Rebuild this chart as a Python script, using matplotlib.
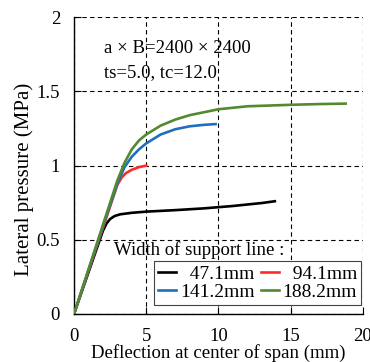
import matplotlib
matplotlib.use("Agg")
import matplotlib.pyplot as plt

# support line width 47.1mm
x_47 = [0, 1.0, 2.0, 2.25, 2.5, 2.8, 3.2, 4.0, 5.0, 7.0, 9.0, 11.0, 13.0, 13.9]
y_47 = [0, 0.28, 0.56, 0.61, 0.64, 0.66, 0.672, 0.682, 0.69, 0.70, 0.712, 0.728, 0.748, 0.76]
# 94.1mm
x_94 = [0, 1.0, 2.0, 3.0, 3.3, 3.6, 4.0, 4.5, 5.0]
y_94 = [0, 0.29, 0.58, 0.87, 0.92, 0.95, 0.972, 0.99, 1.0]
# 141.2mm
x_141 = [0, 1.0, 2.0, 3.0, 3.5, 4.0, 4.5, 5.0, 6.0, 7.0, 8.0, 9.0, 9.8]
y_141 = [0, 0.295, 0.59, 0.88, 0.99, 1.06, 1.11, 1.15, 1.21, 1.245, 1.265, 1.275, 1.28]
# 188.2mm
x_188 = [0, 1.0, 2.0, 3.0, 3.5, 4.0, 4.5, 5.0, 6.0, 7.0, 8.0, 10.0, 12.0, 15.0, 17.0, 18.8]
y_188 = [0, 0.30, 0.60, 0.90, 1.02, 1.11, 1.17, 1.21, 1.27, 1.31, 1.34, 1.38, 1.40, 1.41, 1.415, 1.418]

labels = ["  47.1mm", "  94.1mm", "141.2mm", "188.2mm"]
colors = ["black", "#ff2a2a", "#1f6fbf", "#538a30"]

plt.rcParams["font.family"] = ["Liberation Serif", "DejaVu Sans"]
plt.rcParams["font.size"] = 13

fig = plt.figure(figsize=(3.7, 3.62), dpi=100)
ax = fig.add_axes([0.2, 0.1326, 0.781, 0.8197])

lines = []
for xs, ys, c, lab in zip([x_47, x_94, x_141, x_188], [y_47, y_94, y_141, y_188], colors, labels):
    ln, = ax.plot(xs, ys, color=c, lw=1.9, label=lab, zorder=3)
    lines.append(ln)

ax.set_xlim(0, 20)
ax.set_ylim(0, 2)
ax.set_xticks([0, 5, 10, 15, 20])
ax.set_yticks([0, 0.5, 1, 1.5, 2])
ax.set_yticklabels(["0", "0.5", "1", "1.5", "2"])
ax.grid(True, color="black", ls=(0, (4, 3)), lw=0.8)
ax.spines["top"].set_visible(False)
ax.spines["right"].set_visible(False)
ax.spines["left"].set_linewidth(1.0)
ax.spines["bottom"].set_linewidth(1.0)
ax.tick_params(direction="in", length=5, width=0.8, labelsize=13.5)
ax.tick_params(axis="x", pad=10)
ax.tick_params(axis="y", pad=10)

ax.set_xlabel("Deflection at center of span (mm)", fontsize=13.5)
ax.xaxis.set_label_coords(0.5, -0.102)
ax.set_ylabel("Lateral pressure (MPa)", fontsize=15)
ax.yaxis.set_label_coords(-0.14, 0.455)

ax.text(2.1, 1.76, "a \u00d7 B=2400 \u00d7 2400", fontsize=13.5)
ax.text(2.1, 1.595, "ts=5.0, tc=12.0", fontsize=13.5)
ax.text(2.8, 0.395, "Width of support line :", fontsize=13.5)

# column order: black, blue | red, green
leg = ax.legend([lines[0], lines[2], lines[1], lines[3]],
                [labels[0], labels[2], labels[1], labels[3]],
                ncol=2, loc="lower right", bbox_to_anchor=(0.993, 0.03),
                frameon=True, fancybox=False, edgecolor="#444444", framealpha=1,
                handlelength=0.9, handletextpad=0.2, columnspacing=0.35,
                labelspacing=0.05, borderpad=0.2, borderaxespad=0, fontsize=14)
leg.get_frame().set_linewidth(0.8)

fig.savefig("out.png", dpi=100)
